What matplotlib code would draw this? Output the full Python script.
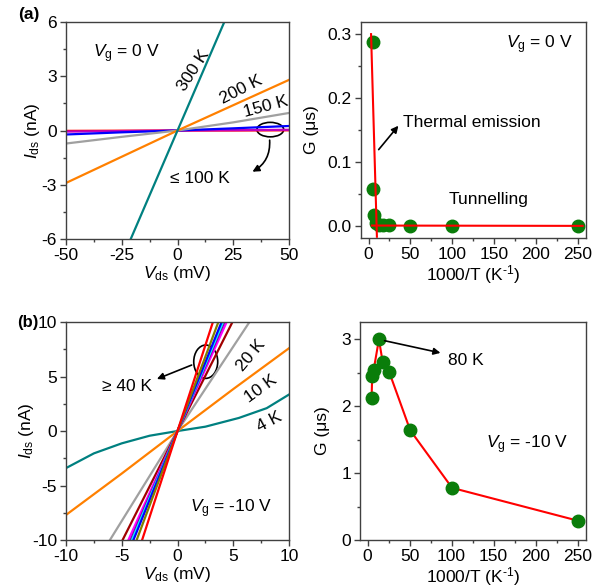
import matplotlib
matplotlib.use("Agg")
import matplotlib.pyplot as plt
from matplotlib.patches import Ellipse
from matplotlib.ticker import MultipleLocator

plt.rcParams["font.family"] = ["Liberation Sans", "DejaVu Sans"]
plt.rcParams["mathtext.fontset"] = "custom"
plt.rcParams["mathtext.rm"] = "Liberation Sans"
plt.rcParams["mathtext.it"] = "Liberation Sans:italic"
plt.rcParams["axes.unicode_minus"] = False
plt.rcParams["font.size"] = 12.5

# ---- (a) I-V at Vg = 0 V ----
v_a = [-50, -25, 0, 25, 50]
i_a_300 = [-14.3, -7.15, 0, 7.15, 14.3]
i_a_200 = [-2.9, -1.45, 0, 1.4, 2.8]
i_a_150 = [-0.72, -0.35, 0, 0.45, 0.97]
i_a_100 = [-0.22, -0.1, 0, 0.12, 0.25]
i_a_80 = [-0.06, -0.03, 0, 0.02, 0.04]
i_a_low = [-0.02, -0.01, 0, 0.0, 0.01]

# ---- G vs 1000/T at Vg = 0 V ----
invT_a = [5.0, 5.2, 6.8, 9.0, 12.5, 16.7, 25.0, 50.0, 100.0, 250.0]
g_a = [0.288, 0.057, 0.017, 0.005, 0.002, 0.001, 0.0008, 0.0005, 0.0003, 0.0002]
fit_steep_x = [3.0, 10.0]
fit_steep_y = [0.30, -0.017]
fit_flat_x = [4.0, 256.0]
fit_flat_y = [0.0005, 0.0]

# ---- (b) I-V at Vg = -10 V ----
v_b = [-10, -7.5, -5, -2.5, 0, 2.5, 5.5, 8, 10]
i_b_4 = [-3.4, -2.05, -1.13, -0.43, 0, 0.4, 1.2, 2.1, 3.35]
v_b_lin = [-10, -5, 0, 5, 10]
i_b_10 = [-7.7, -3.9, 0, 3.85, 7.6]
i_b_20 = [-16.5, -8.25, 0, 7.75, 15.5]
# >= 40 K lines: conductance (nA/mV) and colour
g_b_hot = [2.03, 2.27, 2.38, 2.45, 2.53, 2.73, 3.15]
c_b_hot = ["#a00000", "#ff00ff", "#8000a0", "#00ffff", "#0000ff", "#808000", "#ff0000"]

# ---- G vs 1000/T at Vg = -10 V ----
invT_b = [4.8, 5.5, 7.2, 13.5, 18.0, 25.8, 50.8, 100.6, 250.0]
g_b = [2.13, 2.46, 2.54, 3.0, 2.66, 2.51, 1.64, 0.78, 0.29]

fig = plt.figure(figsize=(5.93, 5.88), dpi=100)
ax1 = fig.add_axes([0.1113, 0.5935, 0.3761, 0.3691])
ax2 = fig.add_axes([0.6088, 0.5952, 0.3794, 0.3674])
ax3 = fig.add_axes([0.1113, 0.0816, 0.3761, 0.3707])
ax4 = fig.add_axes([0.6071, 0.0816, 0.3811, 0.3707])

for ax in (ax1, ax2, ax3, ax4):
    for s in ax.spines.values():
        s.set_color("#404040")
        s.set_linewidth(1.0)
    ax.tick_params(which="both", direction="out", top=False, right=False, colors="#404040",
                   labelcolor="black", labelsize=12.5, pad=2.5)
    ax.tick_params(which="major", length=4, width=1)
    ax.tick_params(which="minor", length=2.5, width=1)

lw = 1.6
xlab_T = r"1000/T (K$^{\text{-1}}$)"

# (a) left
ax1.plot(v_a, i_a_low, color="#ff0000", lw=lw)
ax1.plot(v_a, i_a_80, color="#c000c0", lw=lw)
ax1.plot(v_a, i_a_100, color="#0000ff", lw=lw)
ax1.plot(v_a, i_a_150, color="#a0a0a0", lw=lw)
ax1.plot(v_a, i_a_200, color="#ff8000", lw=lw)
ax1.plot(v_a, i_a_300, color="#008080", lw=lw)
ax1.set_xlim(-50, 50)
ax1.set_ylim(-6, 6)
ax1.xaxis.set_major_locator(MultipleLocator(25))
ax1.xaxis.set_minor_locator(MultipleLocator(12.5))
ax1.yaxis.set_major_locator(MultipleLocator(3))
ax1.yaxis.set_minor_locator(MultipleLocator(1.5))
ax1.set_xlabel(r"$V_{\mathrm{ds}}$ (mV)", labelpad=1)
ax1.set_ylabel(r"$I_{\mathrm{ds}}$ (nA)", labelpad=0)
ax1.text(-38, 4.27, r"$V_{\mathrm{g}}$ = 0 V", va="center", ha="left")
ax1.text(7.1, 3.33, "300 K", rotation=57, ha="center", va="center")
ax1.text(28.3, 2.23, "200 K", rotation=27, ha="center", va="center")
ax1.text(39.5, 1.34, "150 K", rotation=15, ha="center", va="center")
ax1.add_patch(Ellipse((41.6, 0.05), 12, 0.8, fill=False, edgecolor="black", lw=1.2))
ax1.annotate("", xy=(32.5, -2.35), xytext=(41.2, -0.38),
             arrowprops=dict(arrowstyle="-|>", color="black", lw=1.2,
                             connectionstyle="arc3,rad=-0.35", mutation_scale=10))
ax1.text(-3.4, -2.65, "\u2264 100 K", va="center", ha="left")

# (a) right
ax2.plot(fit_steep_x, fit_steep_y, color="red", lw=1.5, zorder=3)
ax2.plot(fit_flat_x, fit_flat_y, color="red", lw=1.5, zorder=3)
ax2.plot(invT_a, g_a, "o", color="#0a7d0a", ms=9, zorder=2)
ax2.set_xlim(-9, 260)
ax2.set_ylim(-0.019, 0.319)
ax2.xaxis.set_major_locator(MultipleLocator(50))
ax2.xaxis.set_minor_locator(MultipleLocator(25))
ax2.yaxis.set_major_locator(MultipleLocator(0.1))
ax2.yaxis.set_minor_locator(MultipleLocator(0.05))
ax2.yaxis.set_major_formatter(plt.FormatStrFormatter("%.1f"))
ax2.set_xlabel(xlab_T, labelpad=1)
ax2.set_ylabel("G (\u03bcs)", labelpad=6)
ax2.text(164, 0.283, r"$V_{\mathrm{g}}$ = 0 V", va="center", ha="left")
ax2.annotate("", xy=(37.8, 0.16), xytext=(10, 0.116),
             arrowprops=dict(arrowstyle="-|>", color="black", lw=1.2, mutation_scale=10))
ax2.text(41.6, 0.161, "Thermal emission", va="center", ha="left")
ax2.text(96, 0.042, "Tunnelling", va="center", ha="left")

# (b) left
ax3.plot(v_b, i_b_4, color="#008080", lw=lw)
ax3.plot(v_b_lin, i_b_10, color="#ff8000", lw=lw)
ax3.plot(v_b_lin, i_b_20, color="#a0a0a0", lw=lw)
for g, c in zip(g_b_hot, c_b_hot):
    ax3.plot(v_b_lin, [g * v for v in v_b_lin], color=c, lw=lw)
ax3.set_xlim(-10, 10)
ax3.set_ylim(-10, 10)
ax3.xaxis.set_major_locator(MultipleLocator(5))
ax3.xaxis.set_minor_locator(MultipleLocator(2.5))
ax3.yaxis.set_major_locator(MultipleLocator(5))
ax3.yaxis.set_minor_locator(MultipleLocator(2.5))
ax3.set_xlabel(r"$V_{\mathrm{ds}}$ (mV)", labelpad=1)
ax3.set_ylabel(r"$I_{\mathrm{ds}}$ (nA)", labelpad=-3)
ax3.text(1.1, -7.1, r"$V_{\mathrm{g}}$ = -10 V", va="center", ha="left")
ax3.text(6.56, 6.97, "20 K", rotation=50, ha="center", va="center")
ax3.text(7.46, 3.88, "10 K", rotation=36, ha="center", va="center")
ax3.text(8.23, 0.85, "4 K", rotation=28, ha="center", va="center")
ax3.add_patch(Ellipse((2.53, 6.36), 2.15, 3.06, fill=False, edgecolor="black", lw=1.2))
ax3.annotate("", xy=(-2.08, 4.68), xytext=(1.5, 6.15),
             arrowprops=dict(arrowstyle="-|>", color="black", lw=1.2, mutation_scale=10))
ax3.text(-2.3, 4.07, "\u2265 40 K", va="center", ha="right")

# (b) right
ax4.plot(invT_b, g_b, "-", color="red", lw=1.5, zorder=2)
ax4.plot(invT_b, g_b, "o", color="#0a7d0a", ms=9, zorder=3)
ax4.set_xlim(-9, 260)
ax4.set_ylim(0, 3.26)
ax4.xaxis.set_major_locator(MultipleLocator(50))
ax4.xaxis.set_minor_locator(MultipleLocator(25))
ax4.yaxis.set_major_locator(MultipleLocator(1))
ax4.yaxis.set_minor_locator(MultipleLocator(0.5))
ax4.set_xlabel(xlab_T, labelpad=1)
ax4.set_ylabel("G (\u03bcs)", labelpad=8)
ax4.text(140.8, 1.42, r"$V_{\mathrm{g}}$ = -10 V", va="center", ha="left")
ax4.annotate("", xy=(90, 2.79), xytext=(17, 2.99),
             arrowprops=dict(arrowstyle="-|>", color="black", lw=1.2, mutation_scale=10))
ax4.text(95.4, 2.68, "80 K", va="center", ha="left")

fig.text(18 / 593, 1 - 14 / 588, "(a)", fontsize=12.5, fontweight="bold", va="center", ha="left")
fig.text(17 / 593, 1 - 322 / 588, "(b)", fontsize=12, fontweight="bold", va="center", ha="left")

fig.savefig("out.png", dpi=100)
